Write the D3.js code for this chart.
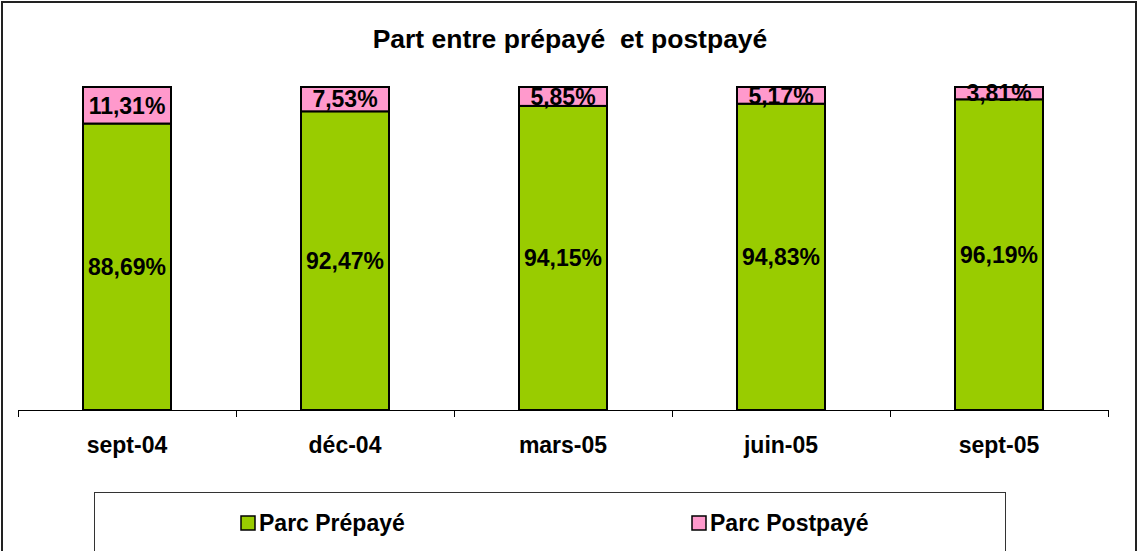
<!DOCTYPE html>
<html>
<head>
<meta charset="utf-8">
<script src="https://cdn.jsdelivr.net/npm/d3@7"></script>
<style>
  html, body { margin: 0; padding: 0; background: #fff; }
  svg { display: block; font-family: Arial, "Liberation Sans", sans-serif; }
</style>
</head>
<body>
<svg id="chart" width="1138" height="551"></svg>
<script>
const categories = ["sept-04", "déc-04", "mars-05", "juin-05", "sept-05"];
const prepaye = [88.69, 92.47, 94.15, 94.83, 96.19];
const postpaye = [11.31, 7.53, 5.85, 5.17, 3.81];
const seriesNames = ["Parc Prépayé", "Parc Postpayé"];
const seriesColors = ["#99CC00", "#FF99CC"];
const titleText = "Part entre prépayé\u00A0 et postpayé";

const svg = d3.select("#chart");
const plot = { left: 18, right: 1108, top: 87, bottom: 410 };
const FS = 23;

// outer border
svg.append("rect").attr("x", 2).attr("y", 2).attr("width", 1134).attr("height", 570)
  .attr("fill", "#fff").attr("stroke", "#222").attr("stroke-width", 2);

// title
svg.append("text").attr("x", 570).attr("y", 48).attr("text-anchor", "middle")
  .attr("font-weight", "bold").attr("font-size", 26.5).text(titleText);

const x = d3.scaleBand().domain(categories).range([plot.left, plot.right])
  .paddingInner(130 / 218).paddingOuter(65 / 218);
const xCat = d3.scaleBand().domain(categories).range([plot.left, plot.right]).padding(0);
const y = d3.scaleLinear().domain([0, 100]).range([plot.bottom, plot.top]);

const fmt = v => d3.format(".2f")(v).replace(".", ",") + "%";

const data = categories.map((c, i) => ({ cat: c, pre: prepaye[i], post: postpaye[i] }));
const stack = d3.stack().keys(["pre", "post"])(data);

const g = svg.append("g");
stack.forEach((layer, li) => {
  g.selectAll(null).data(layer).enter().append("rect")
    .attr("x", d => x(d.data.cat))
    .attr("y", d => y(d[1]))
    .attr("width", x.bandwidth())
    .attr("height", d => y(d[0]) - y(d[1]))
    .attr("fill", seriesColors[li])
    .attr("stroke", "#000").attr("stroke-width", 2);
});
stack.forEach((layer, li) => {
  g.selectAll(null).data(layer).enter().append("text")
    .attr("x", d => x(d.data.cat) + x.bandwidth() / 2)
    .attr("y", d => (y(d[0]) + y(d[1])) / 2)
    .attr("dy", "0.36em")
    .attr("text-anchor", "middle")
    .attr("font-weight", "bold").attr("font-size", FS)
    .text(d => fmt(d[1] - d[0]));
});

// axis
const ax = svg.append("g");
ax.append("line").attr("x1", plot.left).attr("x2", plot.right)
  .attr("y1", plot.bottom + 0.5).attr("y2", plot.bottom + 0.5)
  .attr("stroke", "#000").attr("stroke-width", 1);
const bounds = categories.map(c => xCat(c)).concat([plot.right]);
ax.selectAll(null).data(bounds).enter().append("line")
  .attr("x1", d => Math.round(d) + 0.5).attr("x2", d => Math.round(d) + 0.5)
  .attr("y1", plot.bottom).attr("y2", plot.bottom + 7)
  .attr("stroke", "#000").attr("stroke-width", 1);
ax.selectAll(null).data(categories).enter().append("text")
  .attr("x", d => xCat(d) + xCat.bandwidth() / 2)
  .attr("y", 453)
  .attr("text-anchor", "middle")
  .attr("font-weight", "bold").attr("font-size", FS)
  .text(d => d);

// legend
const lg = svg.append("g");
lg.append("rect").attr("x", 94.5).attr("y", 492.5).attr("width", 911).attr("height", 80)
  .attr("fill", "#fff").attr("stroke", "#333").attr("stroke-width", 1);
const legX = [241, 692];
seriesNames.forEach((name, i) => {
  lg.append("rect").attr("x", legX[i]).attr("y", 516).attr("width", 14).attr("height", 14)
    .attr("fill", seriesColors[i]).attr("stroke", "#000").attr("stroke-width", 1.5);
  lg.append("text").attr("x", legX[i] + 18).attr("y", 531)
    .attr("font-weight", "bold").attr("font-size", FS).text(name);
});
</script>
</body>
</html>
